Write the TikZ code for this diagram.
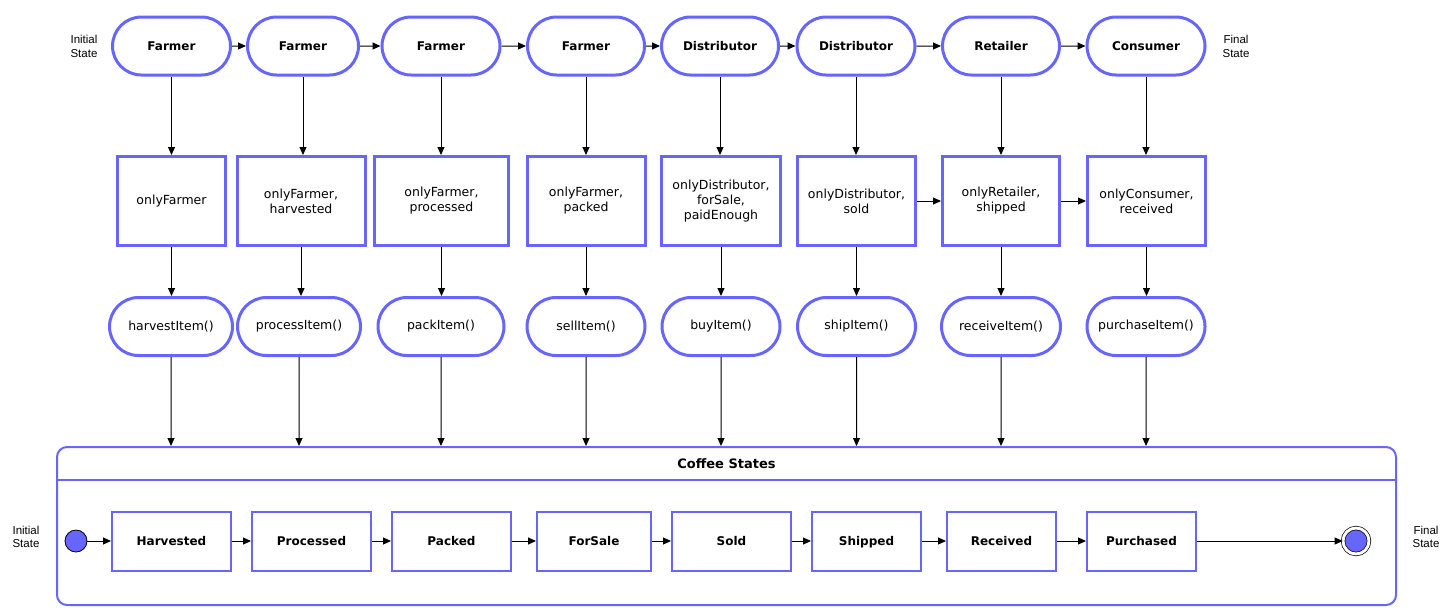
\documentclass[tikz,border=0pt]{standalone}
\usepackage{fontspec}
\setmainfont{DejaVu Sans}
\newfontfamily\notefont{Liberation Sans}
\usetikzlibrary{arrows.meta}
\usetikzlibrary{shapes}
\definecolor{stateblue}{RGB}{102,102,255}

\begin{document}
\begin{tikzpicture}[x = 1pt, y = -1pt]
	\tikzstyle{actorStyle} = [shape = rounded rectangle, draw = stateblue, line width = 3pt, minimum height = 58pt, inner sep = 0pt, font = \fontsize{12}{14}\selectfont\bfseries]
	\tikzstyle{guardStyle} = [shape = rectangle, draw = stateblue, line width = 3pt, minimum height = 89pt, inner sep = 0pt, align = center, font = \fontsize{12.5}{15}\selectfont]
	\tikzstyle{callStyle} = [shape = rounded rectangle, draw = stateblue, line width = 3pt, minimum height = 58pt, inner sep = 0pt, font = \fontsize{12.5}{15}\selectfont]
	\tikzstyle{stateStyle} = [shape = rectangle, draw = stateblue, line width = 2pt, minimum height = 59pt, inner sep = 0pt, text depth = 0pt, font = \fontsize{12}{14}\selectfont\bfseries]
	\tikzstyle{groupStyle} = [shape = rectangle, draw = stateblue, line width = 2pt, rounded corners = 10pt, inner sep = 0pt]
	\tikzstyle{noteStyle} = [align = center, inner sep = 0pt, font = \notefont\fontsize{11.5}{13.5}\selectfont]
	\tikzstyle{startStyle} = [shape = circle, minimum size = 22pt, inner sep = 0pt, fill = stateblue, draw = black, line width = 0.8pt]
	\tikzstyle{stopStyle} = [shape = circle, minimum size = 26pt, inner sep = 0pt, fill = stateblue, draw = black, line width = 0.7pt, double = white, double distance = 2.9pt]
	\tikzstyle{flowEdge} = [-{Triangle[length = 8pt, width = 7pt]}, black, line width = 1pt]
	\useasboundingbox (0, 0) rectangle (1453, 614);
	\node[noteStyle] (initTop) at (84, 46.5) {Initial\\State};
	\node[noteStyle] (finalTop) at (1236, 46.5) {Final\\State};
	\node[actorStyle, minimum width = 118pt] (farmerA) at (171.5, 46) {Farmer};
	\node[actorStyle, minimum width = 111pt] (farmerB) at (303, 46) {Farmer};
	\node[actorStyle, minimum width = 118pt] (farmerC) at (441, 46) {Farmer};
	\node[actorStyle, minimum width = 117pt] (farmerD) at (586, 46) {Farmer};
	\node[actorStyle, minimum width = 117pt] (distribA) at (720, 46) {Distributor};
	\node[actorStyle, minimum width = 118pt] (distribB) at (856, 46) {Distributor};
	\node[actorStyle, minimum width = 117pt] (retailer) at (1001, 46) {Retailer};
	\node[actorStyle, minimum width = 118pt] (consumer) at (1146, 46) {Consumer};
	\node[guardStyle, minimum width = 108pt] (gHarvest) at (171.5, 201) {onlyFarmer};
	\node[guardStyle, minimum width = 128pt] (gProcess) at (301, 201) {onlyFarmer,\\harvested};
	\node[guardStyle, minimum width = 134pt] (gPack) at (441.5, 201) {onlyFarmer,\\processed};
	\node[guardStyle, minimum width = 118pt] (gSell) at (586, 201) {onlyFarmer,\\packed};
	\node[guardStyle, minimum width = 119pt] (gBuy) at (721, 201) {onlyDistributor,\\forSale,\\paidEnough};
	\node[guardStyle, minimum width = 118pt] (gShip) at (856.5, 201) {onlyDistributor,\\sold};
	\node[guardStyle, minimum width = 117pt] (gReceive) at (1001, 201) {onlyRetailer,\\shipped};
	\node[guardStyle, minimum width = 118pt] (gPurchase) at (1146.5, 201) {onlyConsumer,\\received};
	\node[callStyle, minimum width = 123pt] (harvestItem) at (171, 326.5) {harvestItem()};
	\node[callStyle, minimum width = 123pt] (processItem) at (299, 326.5) {processItem()};
	\node[callStyle, minimum width = 126pt] (packItem) at (441, 326.5) {packItem()};
	\node[callStyle, minimum width = 118pt] (sellItem) at (586, 326.5) {sellItem()};
	\node[callStyle, minimum width = 118pt] (buyItem) at (721, 326.5) {buyItem()};
	\node[callStyle, minimum width = 118pt] (shipItem) at (856.5, 326.5) {shipItem()};
	\node[callStyle, minimum width = 119pt] (receiveItem) at (1001, 326.5) {receiveItem()};
	\node[callStyle, minimum width = 118pt] (purchaseItem) at (1146, 326.5) {purchaseItem()};
	\node[groupStyle, minimum width = 1339pt, minimum height = 158pt] (states) at (726.5, 526) {};
	\node[font = \fontsize{13}{15}\selectfont\bfseries] (statesTitle) at (726.5, 463.5) {Coffee States};
	\coordinate (divLeft) at (56, 480);
	\draw[stateblue, line width = 2pt] (divLeft) -- (divLeft -| states.east);
	\node[noteStyle] (initBottom) at (26, 537) {Initial\\State};
	\node[noteStyle] (finalBottom) at (1426, 537) {Final\\State};
	\node[startStyle] (start) at (76, 541) {};
	\node[stateStyle, minimum width = 119pt] (harvested) at (171.5, 541) {Harvested};
	\node[stateStyle, minimum width = 119pt] (processed) at (311.5, 541) {Processed};
	\node[stateStyle, minimum width = 119pt] (packed) at (451.5, 541) {Packed};
	\node[stateStyle, minimum width = 114pt] (forSale) at (594, 541) {ForSale};
	\node[stateStyle, minimum width = 119pt] (sold) at (731.5, 541) {Sold};
	\node[stateStyle, minimum width = 109pt] (shipped) at (866.5, 541) {Shipped};
	\node[stateStyle, minimum width = 109pt] (received) at (1001.5, 541) {Received};
	\node[stateStyle, minimum width = 109pt] (purchased) at (1141.5, 541) {Purchased};
	\node[stopStyle] (finish) at (1356, 541) {};
	\draw[flowEdge] (farmerA) -- (farmerB);
	\draw[flowEdge] (farmerB) -- (farmerC);
	\draw[flowEdge] (farmerC) -- (farmerD);
	\draw[flowEdge] (farmerD) -- (distribA);
	\draw[flowEdge] (distribA) -- (distribB);
	\draw[flowEdge] (distribB) -- (retailer);
	\draw[flowEdge] (retailer) -- (consumer);
	\draw[flowEdge] (farmerA) -- (farmerA |- gHarvest.north);
	\draw[flowEdge] (farmerB) -- (farmerB |- gProcess.north);
	\draw[flowEdge] (farmerC) -- (farmerC |- gPack.north);
	\draw[flowEdge] (farmerD) -- (farmerD |- gSell.north);
	\draw[flowEdge] (distribA) -- (distribA |- gBuy.north);
	\draw[flowEdge] (distribB) -- (distribB |- gShip.north);
	\draw[flowEdge] (retailer) -- (retailer |- gReceive.north);
	\draw[flowEdge] (consumer) -- (consumer |- gPurchase.north);
	\draw[flowEdge] (gShip) -- (gReceive);
	\draw[flowEdge] (gReceive) -- (gPurchase);
	\draw[flowEdge] (gHarvest) -- (gHarvest |- harvestItem.north);
	\draw[flowEdge] (gProcess) -- (gProcess |- processItem.north);
	\draw[flowEdge] (gPack) -- (gPack |- packItem.north);
	\draw[flowEdge] (gSell) -- (gSell |- sellItem.north);
	\draw[flowEdge] (gBuy) -- (gBuy |- buyItem.north);
	\draw[flowEdge] (gShip) -- (gShip |- shipItem.north);
	\draw[flowEdge] (gReceive) -- (gReceive |- receiveItem.north);
	\draw[flowEdge] (gPurchase) -- (gPurchase |- purchaseItem.north);
	\draw[flowEdge] (harvestItem) -- (harvestItem |- states.north);
	\draw[flowEdge] (processItem) -- (processItem |- states.north);
	\draw[flowEdge] (packItem) -- (packItem |- states.north);
	\draw[flowEdge] (sellItem) -- (sellItem |- states.north);
	\draw[flowEdge] (buyItem) -- (buyItem |- states.north);
	\draw[flowEdge] (shipItem) -- (shipItem |- states.north);
	\draw[flowEdge] (receiveItem) -- (receiveItem |- states.north);
	\draw[flowEdge] (purchaseItem) -- (purchaseItem |- states.north);
	\draw[flowEdge] (start) -- (harvested);
	\draw[flowEdge] (harvested) -- (processed);
	\draw[flowEdge] (processed) -- (packed);
	\draw[flowEdge] (packed) -- (forSale);
	\draw[flowEdge] (forSale) -- (sold);
	\draw[flowEdge] (sold) -- (shipped);
	\draw[flowEdge] (shipped) -- (received);
	\draw[flowEdge] (received) -- (purchased);
	\draw[flowEdge] (purchased) -- (finish);
\end{tikzpicture}
\end{document}
